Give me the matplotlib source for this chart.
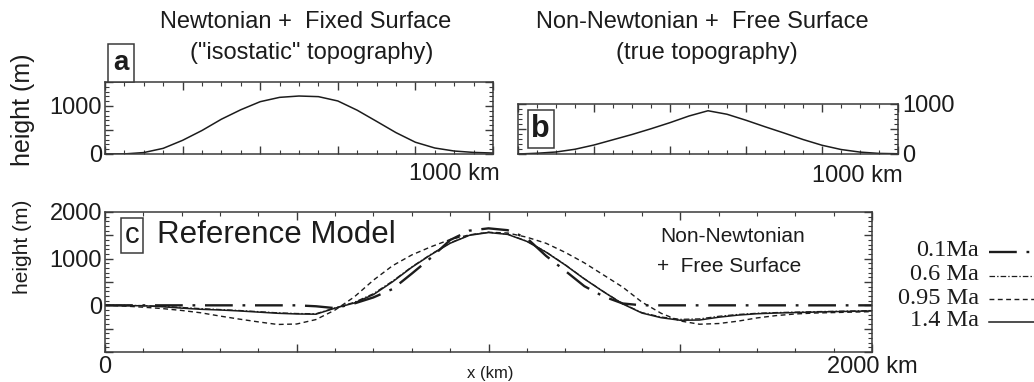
import matplotlib
matplotlib.use("Agg")
import matplotlib.pyplot as plt
from matplotlib.lines import Line2D
from matplotlib.ticker import MultipleLocator, FixedLocator, FixedFormatter

plt.rcParams['font.family'] = ['Liberation Sans', 'DejaVu Sans']
plt.rcParams['lines.scale_dashes'] = False

# ---- data -------------------------------------------------------------
# (a) Newtonian + fixed surface: isostatic topography, x in km, height in m
x_a = [0, 50, 100, 150, 200, 250, 300, 350, 400, 450, 500,
       550, 600, 650, 700, 750, 800, 850, 900, 950, 1000]
h_a = [0, 2, 30, 118, 285, 490, 725, 922, 1090, 1180, 1208,
       1195, 1105, 912, 680, 445, 245, 125, 62, 33, 20]

# (b) Non-Newtonian + free surface: true topography
x_b = [0, 50, 100, 150, 200, 250, 300, 350, 400, 450, 500,
       550, 600, 650, 700, 750, 800, 850, 900, 950, 1000]
h_b = [0, 15, 40, 95, 180, 285, 390, 505, 627, 760, 865,
       795, 675, 545, 420, 290, 175, 90, 38, 12, 5]

# (c) Reference model, topography at several times
x_c = list(range(0, 2001, 50))
h_01 = [0, 0, 0, 0, 0, 0, 0, 0, 0, 0, 0,
        -20, -60, 40, 170, 350, 680, 1020, 1400, 1600, 1650,
        1610, 1440, 1060, 740, 410, 190, 40, 0, 0, 0,
        0, 0, 0, 0, 0, 0, 0, 0, 0, 0]
h_06 = [0, 0, -5, -20, -45, -70, -90, -110, -135, -160, -175,
        -180, -55, 65, 250, 520, 825, 1095, 1340, 1505, 1565,
        1525, 1375, 1145, 870, 570, 295, 35, -155, -250, -300,
        -290, -235, -195, -170, -155, -145, -135, -128, -120, -115]
h_095 = [0, -15, -40, -70, -110, -160, -230, -295, -355, -410, -400,
         -305, -100, 180, 540, 850, 1080, 1255, 1410, 1510, 1565,
         1550, 1460, 1330, 1135, 910, 650, 390, 70, -170, -335,
         -405, -390, -340, -270, -220, -185, -165, -155, -145, -135]
h_14 = [0, -5, -10, -30, -60, -85, -100, -120, -145, -170, -185,
        -190, -60, 50, 230, 505, 815, 1085, 1330, 1500, 1560,
        1520, 1370, 1140, 865, 565, 290, 30, -165, -265, -320,
        -315, -255, -210, -180, -165, -155, -145, -135, -128, -120]

times = ['0.1Ma', '0.6 Ma', '0.95 Ma', '1.4 Ma']
series = [h_01, h_06, h_095, h_14]

INK = '#1c1c1c'
AX = '#3a3a3a'
styles = [
    dict(lw=1.7, ls=(0, (20, 7, 2, 7))),
    dict(lw=0.9, ls=(0, (4, 1.5, 1, 1.5))),
    dict(lw=1.0, ls=(0, (3.5, 2.5))),
    dict(lw=1.1, ls='-'),
]
TICK_FS = 17

W, H = 1034, 382
fig = plt.figure(figsize=(W / 100, H / 100), dpi=100)


def rect(l, t, r, b):
    return [l / W, 1 - b / H, (r - l) / W, (b - t) / H]


def fx(px):
    return px / W


def fy(py):
    return 1 - py / H


def style_axes(ax, xmajor, xminor, ymajor, yminor):
    for s in ax.spines.values():
        s.set_color(AX)
        s.set_linewidth(1.1)
    ax.xaxis.set_major_locator(MultipleLocator(xmajor))
    ax.xaxis.set_minor_locator(MultipleLocator(xminor))
    ax.yaxis.set_major_locator(MultipleLocator(ymajor))
    ax.yaxis.set_minor_locator(MultipleLocator(yminor))
    ax.tick_params(which='both', direction='in', top=True, bottom=True,
                   left=True, right=True, color=AX, labelsize=TICK_FS,
                   labelcolor=INK)
    ax.tick_params(which='major', length=6, width=1.0)
    ax.tick_params(which='minor', length=3, width=0.8)
    ax.tick_params(axis='x', which='both', labelbottom=False)


# ---- panel a ----------------------------------------------------------
ax_a = fig.add_axes(rect(105, 82, 493, 154))
ax_a.plot(x_a, h_a, color=INK, lw=1.1)
ax_a.set_xlim(0, 1000)
ax_a.set_ylim(0, 1500)
style_axes(ax_a, 200, 50, 500, 100)
ax_a.yaxis.set_major_locator(FixedLocator([0, 500, 1000, 1500]))
ax_a.yaxis.set_major_formatter(FixedFormatter(['0', '', '1000', '']))
ax_a.tick_params(axis='y', pad=2)
ax_a.text(1.018, -0.12, '1000 km', transform=ax_a.transAxes, ha='right',
          va='top', fontsize=TICK_FS, color=INK)
fig.text(fx(121), fy(63), 'a', fontsize=20, fontweight='bold', color=INK,
         ha='center', va='center',
         bbox=dict(boxstyle='square,pad=0.2', fc='white', ec=AX, lw=1.1))

# ---- panel b ----------------------------------------------------------
ax_b = fig.add_axes(rect(518, 104, 898, 154))
ax_b.plot(x_b, h_b, color=INK, lw=1.1)
ax_b.set_xlim(0, 1000)
ax_b.set_ylim(0, 1000)
style_axes(ax_b, 200, 50, 500, 100)
ax_b.yaxis.set_major_locator(FixedLocator([0, 500, 1000]))
ax_b.yaxis.set_major_formatter(FixedFormatter(['0', '', '1000']))
ax_b.tick_params(axis='y', labelleft=False, labelright=True, pad=3)
ax_b.text(1.012, -0.22, '1000 km', transform=ax_b.transAxes, ha='right',
          va='top', fontsize=TICK_FS, color=INK)
ax_b.text(0.06, 0.5, 'b', transform=ax_b.transAxes, fontsize=22,
          fontweight='bold', color=INK, ha='center', va='center',
          bbox=dict(boxstyle='square,pad=0.12', fc='white', ec=AX, lw=1.1))

# ---- panel c ----------------------------------------------------------
ax_c = fig.add_axes(rect(105, 212, 872, 352))
for h, st, lab in zip(series, styles, times):
    ax_c.plot(x_c, h, color=INK, label=lab, **st)
ax_c.set_xlim(0, 2000)
ax_c.set_ylim(-1000, 2000)
style_axes(ax_c, 500, 100, 500, 100)
ax_c.yaxis.set_major_locator(FixedLocator([-1000, -500, 0, 500, 1000, 1500, 2000]))
ax_c.yaxis.set_major_formatter(FixedFormatter(['', '', '0', '', '1000', '', '2000']))
ax_c.xaxis.set_major_locator(FixedLocator([0, 500, 1000, 1500, 2000]))
ax_c.xaxis.set_major_formatter(FixedFormatter(['0', '', '', '', '2000 km']))
ax_c.tick_params(axis='x', which='major', labelbottom=True, pad=3)
ax_c.tick_params(axis='y', pad=2)
fig.text(fx(490), fy(381), 'x (km)', fontsize=12, color=INK,
         ha='center', va='bottom')

ax_c.text(0.035, 0.835, 'c', transform=ax_c.transAxes, fontsize=21,
          color=INK, ha='center', va='center',
          bbox=dict(boxstyle='square,pad=0.12', fc='white', ec=AX, lw=1.1))
ax_c.text(0.068, 0.835, 'Reference Model', transform=ax_c.transAxes,
          fontsize=22.5, color=INK, ha='left', va='center')
fig.text(fx(733), fy(237), 'Non-Newtonian', fontsize=15, color=INK,
         ha='center', va='center')
fig.text(fx(729), fy(266), '+  Free Surface', fontsize=15, color=INK,
         ha='center', va='center')

# legend: labels right-aligned, line samples to the right
leg_y = [251, 275, 298, 321]
for lab, st, ty in zip(times, styles, leg_y):
    fig.text(fx(979), fy(ty), lab, family='Liberation Serif', fontsize=17.5,
             color=INK, ha='right', va='center')
    fig.add_artist(Line2D([fx(989), fx(1040)], [fy(ty + 1), fy(ty + 1)],
                          color=INK, transform=fig.transFigure, **st))

# ---- titles and axis labels -------------------------------------------
fig.text(fx(306), fy(22), 'Newtonian +  Fixed Surface', fontsize=17,
         color=INK, ha='center', va='center')
fig.text(fx(312), fy(53), '("isostatic" topography)', fontsize=17,
         color=INK, ha='center', va='center')
fig.text(fx(702), fy(22), 'Non-Newtonian +  Free Surface', fontsize=17,
         color=INK, ha='center', va='center')
fig.text(fx(707), fy(53), '(true topography)', fontsize=17,
         color=INK, ha='center', va='center')
fig.text(fx(23), fy(110), 'height (m)', rotation=90, fontsize=18,
         color=INK, ha='center', va='center')
fig.text(fx(23), fy(247), 'height (m)', rotation=90, fontsize=15,
         color=INK, ha='center', va='center')

fig.savefig('out.png', dpi=100, facecolor='white')
